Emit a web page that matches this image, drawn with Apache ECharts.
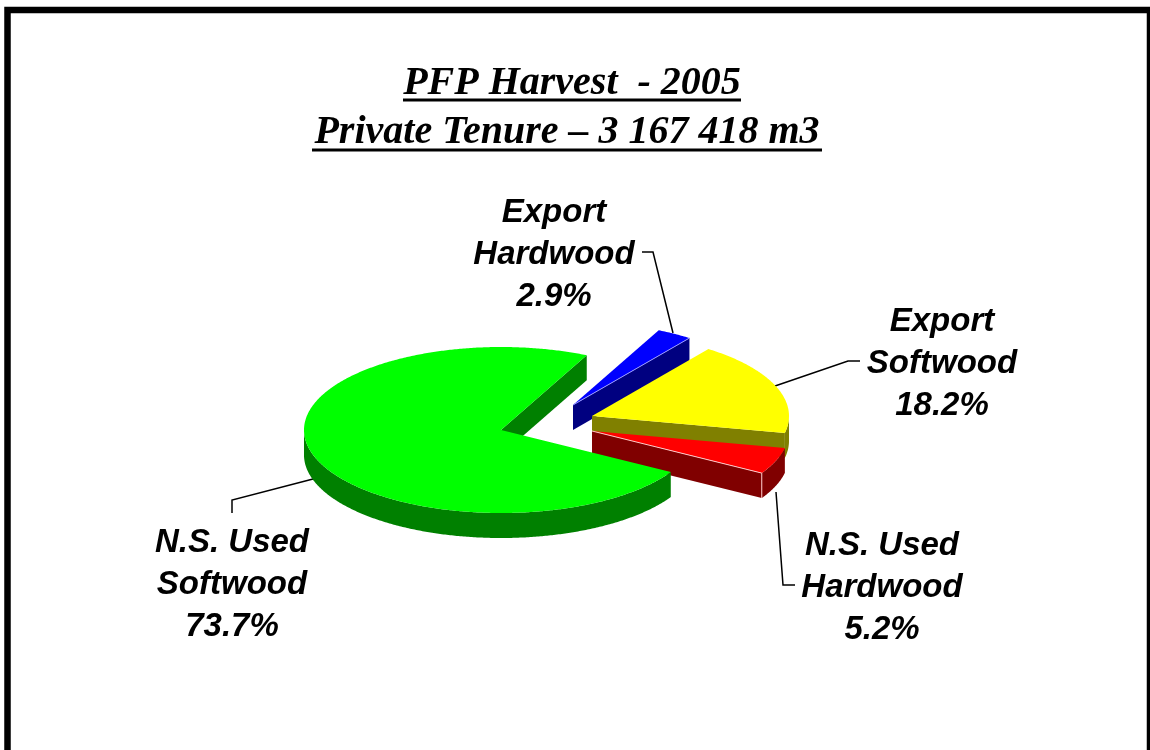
<!DOCTYPE html>
<html>
<head>
<meta charset="utf-8">
<title>PFP Harvest 2005</title>
<style>
  html, body { margin: 0; padding: 0; background: #fff; }
  #chart { width: 1150px; height: 750px; }
</style>
<script src="https://cdn.jsdelivr.net/npm/echarts@6/dist/echarts.min.js"></script>
</head>
<body>
<div id="chart"></div>
<script>
// data, clockwise from the small blue slice
const categories = ["Export\nHardwood", "Export\nSoftwood", "N.S. Used\nHardwood", "N.S. Used\nSoftwood"];
const shares = [2.9, 18.2, 5.2, 73.7];
const titleLines = ["PFP Harvest  - 2005", "Private Tenure \u2013 3 167 418 m3"];

// look of each slice
const topColors = ["#0000ff", "#ffff00", "#ff0000", "#00ff00"];
const sideColors = ["#000080", "#808000", "#800000", "#008000"];
const edgeColors = ["#9a9aff", null, "#ffc8c8", null];

// layout
const startAngle = 25.8;
const cx = 501, cy = 430, rx = 197, ry = 83, depth = 25;
const explode = [[72, -25], [91, -14], [91, 1], [0, 0]];
const labelPos = [[554, 255], [942, 364], [882, 588], [232, 585]];
const leaders = [
    [[642, 252], [653, 252], [673, 333]],
    [[860, 361], [848, 361], [775, 386]],
    [[795, 585], [783, 585], [776, 492]],
    [[232, 513], [232, 500], [313, 479]],
];

function point(ox, oy, deg, r) {
    const a = deg * Math.PI / 180;
    return [ox + r * rx * Math.sin(a), oy - r * ry * Math.cos(a)];
}

function arc(ox, oy, from, to) {
    const pts = [];
    for (let d = from; d < to; d += 0.5) {
        pts.push(point(ox, oy, d, 1));
    }
    pts.push(point(ox, oy, to, 1));
    return pts;
}

function down(pts) {
    return pts.map(function (p) { return [p[0], p[1] + depth]; });
}

function renderSlice(params, api) {
    const i = params.dataIndex;
    let from = startAngle;
    for (let k = 0; k < i; k++) {
        from += api.value(0, k) * 3.6;
    }
    const to = from + api.value(0, i) * 3.6;
    const ox = cx + explode[i][0];
    const oy = cy + explode[i][1];
    const children = [];

    children.push({
        type: "polyline",
        shape: { points: leaders[i] },
        style: { stroke: "#000", lineWidth: 1.5, fill: null },
    });

    const side = { fill: sideColors[i] };
    const apex = [ox, oy];
    const endPt = point(ox, oy, to, 1);
    const faceUp = to % 360;
    if (faceUp > 0 && faceUp < 180) {
        children.push({
            type: "polygon",
            shape: { points: [apex, endPt, [endPt[0], endPt[1] + depth], [ox, oy + depth]] },
            style: side,
        });
    }
    // only the front half of the rim can be seen
    const rimFrom = Math.max(from, 90);
    const rimTo = Math.min(to, 270);
    if (rimTo > rimFrom) {
        const rim = arc(ox, oy, rimFrom, rimTo);
        children.push({
            type: "polygon",
            shape: { points: rim.concat(down(rim).reverse()) },
            style: side,
        });
    }
    children.push({
        type: "polygon",
        shape: { points: [apex].concat(arc(ox, oy, from, to)) },
        style: { fill: topColors[i] },
    });
    if (edgeColors[i]) {
        children.push({
            type: "line",
            shape: { x1: ox, y1: oy, x2: endPt[0], y2: endPt[1] },
            style: { stroke: edgeColors[i], lineWidth: 1 },
        });
        if (i === 2) {
            children.push({
                type: "line",
                shape: { x1: endPt[0], y1: endPt[1], x2: endPt[0], y2: endPt[1] + depth },
                style: { stroke: edgeColors[i], lineWidth: 1 },
            });
        }
    }
    children.push({
        type: "text",
        style: {
            x: labelPos[i][0],
            y: labelPos[i][1],
            text: categories[i] + "\n" + api.value(0, i).toFixed(1) + "%",
            align: "center",
            verticalAlign: "middle",
            font: "italic bold 33px 'Liberation Sans'",
            lineHeight: 42,
            fill: "#000",
        },
    });
    return { type: "group", children: children };
}

function titleText(text, x, y) {
    return {
        type: "text",
        style: {
            x: x,
            y: y,
            text: text,
            align: "center",
            verticalAlign: "middle",
            font: "italic bold 40px 'Liberation Serif'",
            fill: "#000",
        },
    };
}

function underline(x1, x2, y) {
    return {
        type: "line",
        shape: { x1: x1, y1: y, x2: x2, y2: y },
        style: { stroke: "#000", lineWidth: 3 },
    };
}

const chart = echarts.init(document.getElementById("chart"));
chart.setOption({
    animation: false,
    backgroundColor: "#fff",
    graphic: [
        {
            type: "rect",
            shape: { x: 7.5, y: 10, width: 1142.5, height: 800 },
            style: { fill: null, stroke: "#000", lineWidth: 6.5 },
        },
        titleText(titleLines[0], 572, 84),
        underline(403, 741, 100),
        titleText(titleLines[1], 567, 133),
        underline(312, 822, 150),
    ],
    series: [
        {
            type: "custom",
            coordinateSystem: "none",
            renderItem: renderSlice,
            data: shares.map(function (v) { return [v]; }),
            silent: true,
        },
    ],
});
</script>
</body>
</html>
